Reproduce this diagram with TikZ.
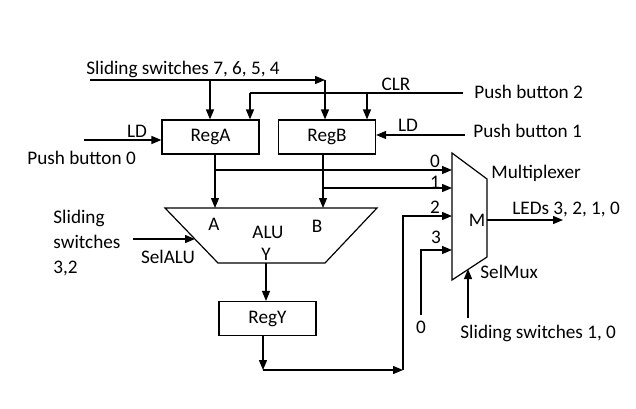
\documentclass[tikz,border=0pt]{standalone}
\usepackage{fontspec}
\setmainfont{Carlito}
\usetikzlibrary{arrows.meta}
\begin{document}
\begin{tikzpicture}[x=0.5pt,y=-0.5pt,
  every node/.style={font=\fontsize{9.6}{11.5}\selectfont},
  txt/.style={inner sep=0pt},
  lbl/.style={inner sep=0pt,anchor=west},
  reg/.style={draw,line width=0.6pt,minimum width=48.5pt,minimum height=17pt,inner sep=0pt},
  wire/.style={line width=0.65pt},
  arr/.style={wire,-{Triangle[length=5pt,width=4pt]}}]
\useasboundingbox (0,0) rectangle (636,408);
% registers
\node[reg] (RegA) at (210.5,137) {RegA};
\node[reg] (RegB) at (327,137) {RegB};
\node[reg] (RegY) at (267.5,318.5) {RegY};
% ALU
\coordinate (aluTL) at (165,208);
\coordinate (aluTR) at (377,208);
\coordinate (aluBR) at (325,263);
\coordinate (aluBL) at (218,263);
\draw[line width=0.6pt] (aluTL) -- (aluTR) -- (aluBR) -- (aluBL) -- cycle;
\node[txt] (lA) at (214,224) {A};
\node[txt] (lB) at (317,226) {B};
\node[txt] (lALU) at (268,232) {ALU};
\node[txt] (lY) at (266,254) {Y};
\node[txt] (lSelALU) at (168,257) {SelALU};
% Mux
\coordinate (mTL) at (452,153);
\coordinate (mTR) at (487,179);
\coordinate (mBR) at (487,257);
\coordinate (mBL) at (452,280);
\draw[line width=0.6pt] (mTL) -- (mTR) -- (mBR) -- (mBL) -- cycle;
\node[txt] (lM) at (477,220) {M};
\node[lbl] (tMux) at (491,173) {Multiplexer};
% texts
\node[lbl] (t74) at (86,69) {Sliding switches 7, 6, 5, 4};
\node[lbl] (pb2) at (474,92) {Push button 2};
\node[txt] (tCLR) at (396,84) {CLR};
\node[txt] (tLDA) at (137,131) {LD};
\node[lbl] (pb0) at (27,158) {Push button 0};
\node[txt] (tLDB) at (408,125) {LD};
\node[lbl] (pb1) at (473,131) {Push button 1};
\node[txt] (in0) at (435,161) {0};
\node[txt] (in1) at (435,182) {1};
\node[txt] (in2) at (435,207) {2};
\node[txt] (in3) at (436,237) {3};
\node[lbl] (tLED) at (512,209) {LEDs 3, 2, 1, 0};
\node[lbl] (tSelMux) at (480,272) {SelMux};
\node[txt] (zero) at (421,327) {0};
\node[lbl] (sw10) at (460,333) {Sliding switches 1, 0};
\node[lbl,align=left] (sw32) at (53,243) {Sliding\\[1pt]switches\\[1pt]3,2};
% coordinates
\coordinate (s1) at (90,80);
\coordinate (c1) at (325,80);
\coordinate (b1) at (210,80);
\coordinate (clrR) at (463,93);
\coordinate (clrL) at (250,93);
\coordinate (clrB) at (367,93);
\coordinate (ldA) at (84,140);
\coordinate (ldB) at (465,135);
\coordinate (aOut) at (215,154);
\coordinate (aTap) at (215,170);
\coordinate (bOut) at (323,154);
\coordinate (bTap) at (323,188);
\coordinate (yOut) at (266,263);
\coordinate (ryOut) at (263,336);
\coordinate (ryC) at (263,370);
\coordinate (ryR) at (403,370);
\coordinate (r2) at (403,216);
\coordinate (z0) at (421,315);
\coordinate (z1) at (421,250);
\coordinate (mOut) at (487,220);
\coordinate (led) at (563,220);
\coordinate (smB) at (468,318);
\coordinate (smT) at (468,269);
\coordinate (selA) at (133,239);
\coordinate (selB) at (195,239);
% wires
\draw[arr] (s1) -- (c1);
\draw[arr] (c1) -- (c1 |- RegB.north);
\draw[arr] (b1) -- (b1 |- RegA.north);
\draw[wire] (clrR) -- (clrL);
\draw[arr] (clrL) -- (clrL |- RegA.north);
\draw[arr] (clrB) -- (clrB |- RegB.north);
\draw[arr] (ldA) -- (ldA -| RegA.west);
\draw[arr] (ldB) -- (ldB -| RegB.east);
\draw[arr] (aOut) -- (aOut |- aluTL);
\draw[arr] (aTap) -- (aTap -| mTL);
\draw[arr] (bOut) -- (bOut |- aluTL);
\draw[arr] (bTap) -- (bTap -| mTL);
\draw[arr] (yOut) -- (yOut |- RegY.north);
\draw[arr] (ryOut) -- (ryC);
\draw[arr] (ryC) -- (ryR);
\draw[arr] (ryR) -- (r2) -- (r2 -| mTL);
\draw[arr] (z0) -- (z1) -- (z1 -| mTL);
\draw[arr] (mOut) -- (led);
\draw[arr] (smB) -- (smT);
\draw[arr] (selA) -- (selB);
\end{tikzpicture}
\end{document}
